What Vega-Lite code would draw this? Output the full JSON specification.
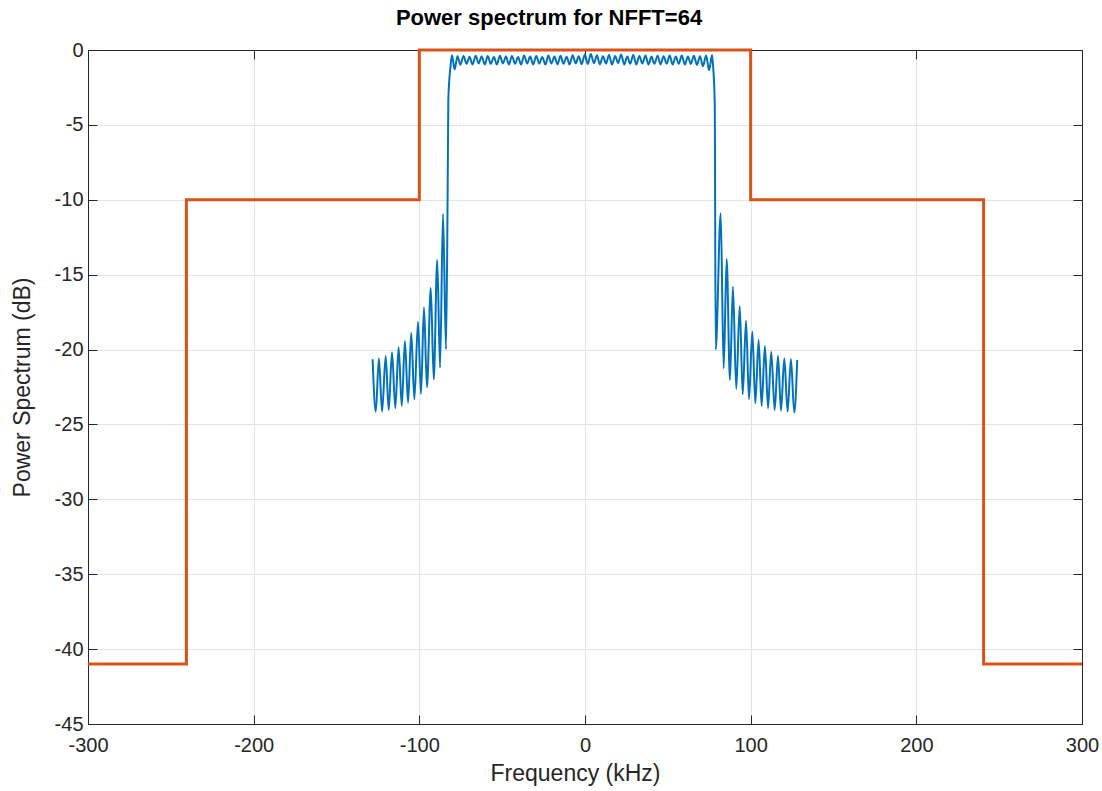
{
  "$schema": "https://vega.github.io/schema/vega-lite/v6.json",
  "width": 994,
  "height": 674,
  "autosize": {"type": "none"},
  "padding": {"left": 88, "top": 50, "right": 20, "bottom": 67},
  "background": "white",
  "title": {"text": "Power spectrum for NFFT=64", "font": "Liberation Sans", "fontSize": 22, "fontWeight": "bold", "color": "#000000", "offset": 10, "anchor": "middle", "dx": -36},
  "config": {
    "view": {"stroke": "#262626", "strokeWidth": 1},
    "axis": {
      "labelFont": "Liberation Sans", "labelFontSize": 20, "labelColor": "#262626",
      "titleFont": "Liberation Sans", "titleFontSize": 23, "titleFontWeight": "normal", "titleColor": "#262626",
      "domainColor": "#262626", "tickColor": "#262626", "tickSize": -9, "gridColor": "#e3e3e3", "gridWidth": 1,
      "labelExpr": "'' + datum.value"
    }
  },
  "datasets": {
    "mask": [
      {"f": -300, "p": -41}, {"f": -240.6, "p": -41}, {"f": -240.6, "p": -10}, {"f": -100, "p": -10}, {"f": -100, "p": 0},
      {"f": 100, "p": 0}, {"f": 100, "p": -10}, {"f": 240.6, "p": -10}, {"f": 240.6, "p": -41}, {"f": 300, "p": -41}
    ],
    "spec": [
      {"f": -128.2, "p": -20.65}, {"f": -126.3, "p": -24.15}, {"f": -124.4, "p": -20.58}, {"f": -122.5, "p": -24.15},
      {"f": -120.3, "p": -20.43}, {"f": -118.5, "p": -24.04}, {"f": -116.5, "p": -20.18}, {"f": -114.5, "p": -23.92},
      {"f": -112.5, "p": -19.85}, {"f": -110.6, "p": -23.77}, {"f": -108.7, "p": -19.43}, {"f": -106.8, "p": -23.55},
      {"f": -104.9, "p": -18.87}, {"f": -103.0, "p": -23.32}, {"f": -100.8, "p": -18.14}, {"f": -99.0, "p": -22.97},
      {"f": -97.2, "p": -17.18}, {"f": -95.4, "p": -22.52}, {"f": -93.1, "p": -15.89}, {"f": -91.3, "p": -21.99},
      {"f": -89.2, "p": -14.02}, {"f": -87.5, "p": -21.21}, {"f": -85.7, "p": -10.95}, {"f": -83.9, "p": -19.98},
      {"f": -82.9, "p": -9.3}, {"f": -82.5, "p": -3.3}, {"f": -81.1, "p": -1.0}, {"f": -80.3, "p": -0.35},
      {"f": -78.7, "p": -1.30},
      {"f": -77.0, "p": -0.42}, {"f": -75.2, "p": -0.98}, {"f": -73.3, "p": -0.40}, {"f": -71.5, "p": -0.92},
      {"f": -69.7, "p": -0.45}, {"f": -67.9, "p": -0.97}, {"f": -66.0, "p": -0.38}, {"f": -64.2, "p": -0.90},
      {"f": -62.4, "p": -0.44}, {"f": -60.5, "p": -0.96}, {"f": -58.7, "p": -0.40}, {"f": -56.9, "p": -0.92},
      {"f": -55.0, "p": -0.46}, {"f": -53.2, "p": -0.97}, {"f": -51.4, "p": -0.38}, {"f": -49.6, "p": -0.90},
      {"f": -47.7, "p": -0.43}, {"f": -45.9, "p": -0.96}, {"f": -44.1, "p": -0.40}, {"f": -42.2, "p": -0.92},
      {"f": -40.4, "p": -0.47}, {"f": -38.6, "p": -0.97}, {"f": -36.7, "p": -0.36}, {"f": -34.9, "p": -0.90},
      {"f": -33.1, "p": -0.44}, {"f": -31.3, "p": -0.96}, {"f": -29.4, "p": -0.40}, {"f": -27.6, "p": -0.91},
      {"f": -25.8, "p": -0.46}, {"f": -23.9, "p": -0.97}, {"f": -22.1, "p": -0.37}, {"f": -20.3, "p": -0.90},
      {"f": -18.4, "p": -0.44}, {"f": -16.6, "p": -0.96}, {"f": -14.8, "p": -0.39}, {"f": -13.0, "p": -0.92},
      {"f": -11.1, "p": -0.45}, {"f": -9.3, "p": -0.97}, {"f": -7.5, "p": -0.35}, {"f": -5.6, "p": -0.90},
      {"f": -3.8, "p": -0.42}, {"f": -2.0, "p": -0.95}, {"f": -0.1, "p": -0.30}, {"f": 1.7, "p": -0.93},
      {"f": 3.5, "p": -0.26}, {"f": 5.4, "p": -0.88}, {"f": 7.2, "p": -0.35}, {"f": 9.0, "p": -0.96},
      {"f": 10.8, "p": -0.42}, {"f": 12.7, "p": -0.90}, {"f": 14.5, "p": -0.33}, {"f": 16.3, "p": -0.97},
      {"f": 18.2, "p": -0.40}, {"f": 20.0, "p": -0.88}, {"f": 21.8, "p": -0.30}, {"f": 23.7, "p": -0.97},
      {"f": 25.5, "p": -0.44}, {"f": 27.3, "p": -0.92}, {"f": 29.1, "p": -0.33}, {"f": 31.0, "p": -0.96},
      {"f": 32.8, "p": -0.40}, {"f": 34.6, "p": -0.90}, {"f": 36.5, "p": -0.36}, {"f": 38.3, "p": -0.97},
      {"f": 40.1, "p": -0.44}, {"f": 41.9, "p": -0.92}, {"f": 43.8, "p": -0.38}, {"f": 45.6, "p": -0.96},
      {"f": 47.4, "p": -0.42}, {"f": 49.3, "p": -0.91}, {"f": 51.1, "p": -0.36}, {"f": 52.9, "p": -0.97},
      {"f": 54.8, "p": -0.44}, {"f": 56.6, "p": -0.92}, {"f": 58.4, "p": -0.37}, {"f": 60.3, "p": -0.97},
      {"f": 62.1, "p": -0.43}, {"f": 63.9, "p": -0.93}, {"f": 65.7, "p": -0.38}, {"f": 67.6, "p": -1.00},
      {"f": 69.4, "p": -0.42}, {"f": 71.2, "p": -1.08}, {"f": 73.1, "p": -0.36}, {"f": 74.9, "p": -1.35},
      {"f": 76.7, "p": -0.33},
      {"f": 77.4, "p": -1.2}, {"f": 78.3, "p": -3.5}, {"f": 78.9, "p": -20.0},
      {"f": 81.9, "p": -10.9}, {"f": 83.7, "p": -21.25}, {"f": 85.5, "p": -13.95}, {"f": 87.5, "p": -22.03},
      {"f": 89.3, "p": -15.8}, {"f": 91.3, "p": -22.63}, {"f": 93.4, "p": -17.09}, {"f": 95.2, "p": -22.99},
      {"f": 97.2, "p": -18.07}, {"f": 99.0, "p": -23.32}, {"f": 101.0, "p": -18.8}, {"f": 102.8, "p": -23.59},
      {"f": 104.8, "p": -19.36}, {"f": 106.6, "p": -23.77}, {"f": 108.6, "p": -19.76}, {"f": 110.5, "p": -23.92},
      {"f": 112.4, "p": -20.14}, {"f": 114.5, "p": -24.04}, {"f": 116.5, "p": -20.41}, {"f": 118.3, "p": -24.08},
      {"f": 120.3, "p": -20.58}, {"f": 122.3, "p": -24.15}, {"f": 124.3, "p": -20.63}, {"f": 126.3, "p": -24.21},
      {"f": 128.1, "p": -20.7}
    ]
  },
  "resolve": {"axis": {"x": "independent", "y": "independent"}},
  "layer": [
    {
      "data": {"name": "spec"},
      "mark": {"type": "line", "color": "#0072BD", "strokeWidth": 2, "interpolate": "monotone", "clip": true},
      "encoding": {
        "x": {"field": "f", "type": "quantitative", "sort": null,
              "scale": {"domain": [-300, 300], "nice": false, "zero": false},
              "axis": {"orient": "bottom", "title": "Frequency (kHz)", "values": [-300, -200, -100, 0, 100, 200, 300], "grid": true, "labelPadding": 20, "titlePadding": 7, "labelFlush": false, "titleX": 487}},
        "y": {"field": "p", "type": "quantitative",
              "scale": {"domain": [-45, 0], "nice": false, "zero": false},
              "axis": {"orient": "left", "title": "Power Spectrum (dB)", "values": [-45, -40, -35, -30, -25, -20, -15, -10, -5, 0], "grid": true, "labelPadding": 14, "titlePadding": 20, "labelFlush": false}}
      }
    },
    {
      "data": {"name": "mask"},
      "mark": {"type": "line", "color": "#D95319", "strokeWidth": 3, "clip": false},
      "encoding": {
        "x": {"field": "f", "type": "quantitative", "sort": null,
              "scale": {"domain": [-300, 300], "nice": false, "zero": false},
              "axis": {"orient": "top", "title": null, "labels": false, "grid": false, "values": [-300, -200, -100, 0, 100, 200, 300]}},
        "y": {"field": "p", "type": "quantitative",
              "scale": {"domain": [-45, 0], "nice": false, "zero": false},
              "axis": {"orient": "right", "title": null, "labels": false, "grid": false, "values": [-45, -40, -35, -30, -25, -20, -15, -10, -5, 0]}}
      }
    }
  ]
}
